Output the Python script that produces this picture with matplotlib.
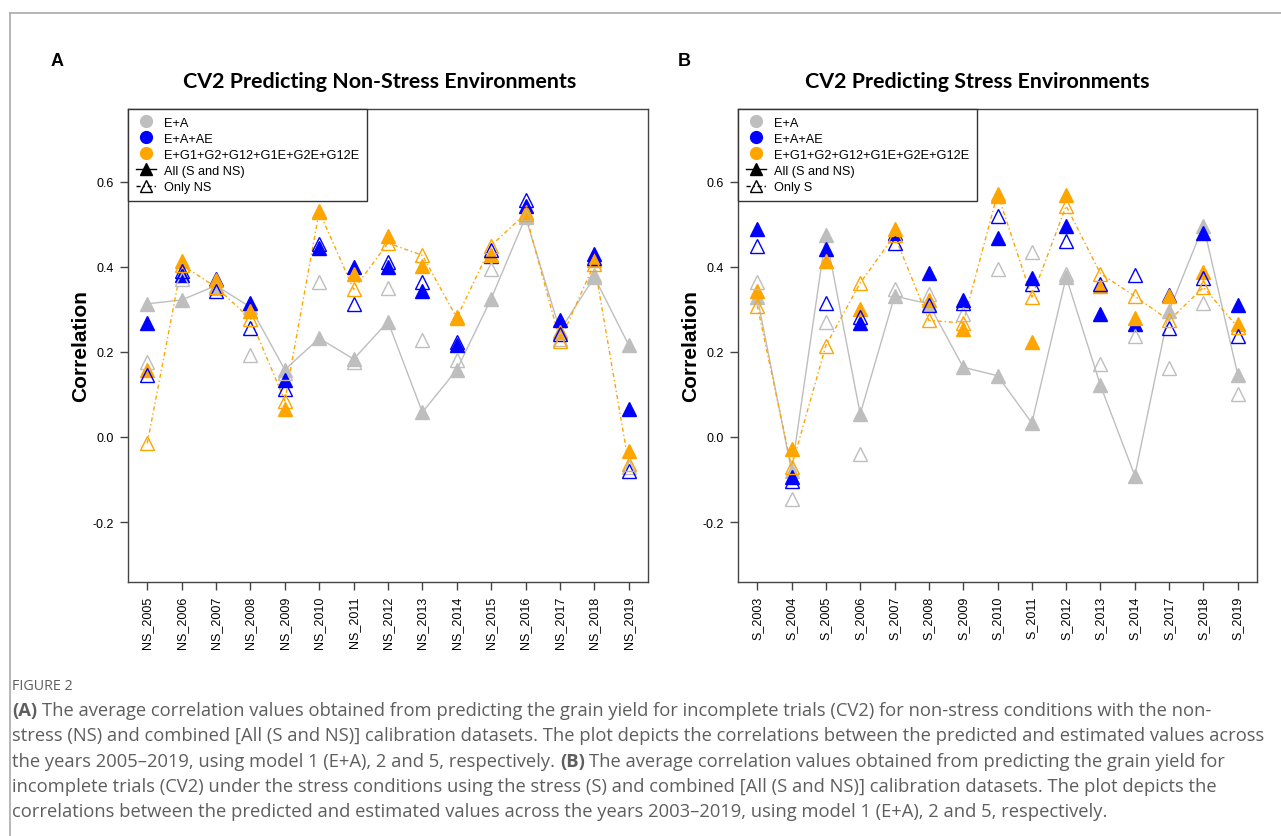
import matplotlib

matplotlib.use("Agg")
import matplotlib.pyplot as plt
from matplotlib.lines import Line2D

W, H = 1281, 837

# ---- data ---------------------------------------------------------------
ns_labels = ["NS_2005", "NS_2006", "NS_2007", "NS_2008", "NS_2009", "NS_2010",
             "NS_2011", "NS_2012", "NS_2013", "NS_2014", "NS_2015", "NS_2016",
             "NS_2017", "NS_2018", "NS_2019"]
ns_ea_all = [0.313, 0.322, 0.356, 0.305, 0.158, 0.232, 0.183, 0.271, 0.058,
             0.158, 0.325, 0.517, 0.250, 0.376, 0.216]
ns_ea_only = [0.176, 0.372, 0.350, 0.193, 0.150, 0.364, 0.176, 0.350, 0.227,
              0.180, 0.395, 0.520, 0.230, 0.380, -0.070]
ns_eaae_all = [0.268, 0.380, 0.372, 0.315, 0.134, 0.445, 0.399, 0.399, 0.342,
               0.216, 0.425, 0.544, 0.274, 0.430, 0.066]
ns_eaae_only = [0.146, 0.390, 0.344, 0.256, 0.113, 0.454, 0.313, 0.412, 0.365,
                0.223, 0.440, 0.556, 0.242, 0.420, -0.079]
ns_g_all = [0.158, 0.413, 0.368, 0.296, 0.066, 0.532, 0.383, 0.472, 0.403,
            0.282, 0.427, 0.529, 0.246, 0.415, -0.032]
ns_g_only = [-0.015, 0.405, 0.352, 0.278, 0.085, 0.530, 0.347, 0.456, 0.427,
             0.280, 0.450, 0.525, 0.226, 0.407, -0.064]

s_labels = ["S_2003", "S_2004", "S_2005", "S_2006", "S_2007", "S_2008",
            "S_2009", "S_2010", "S_2011", "S_2012", "S_2013", "S_2014",
            "S_2017", "S_2018", "S_2019"]
s_ea_all = [0.329, -0.080, 0.474, 0.054, 0.331, 0.313, 0.164, 0.144, 0.033,
            0.376, 0.121, -0.091, 0.297, 0.497, 0.146]
s_ea_only = [0.364, -0.146, 0.271, -0.040, 0.347, 0.337, 0.290, 0.394, 0.435,
             0.384, 0.172, 0.237, 0.162, 0.315, 0.101]
s_eaae_all = [0.489, -0.094, 0.442, 0.268, 0.480, 0.386, 0.321, 0.468, 0.373,
              0.497, 0.290, 0.266, 0.334, 0.480, 0.311]
s_eaae_only = [0.450, -0.103, 0.315, 0.282, 0.457, 0.311, 0.315, 0.519, 0.360,
               0.460, 0.360, 0.380, 0.256, 0.373, 0.237]
s_g_all = [0.342, -0.028, 0.413, 0.301, 0.488, 0.321, 0.254, 0.566, 0.224,
           0.568, 0.355, 0.279, 0.331, 0.388, 0.266]
s_g_only = [0.309, -0.071, 0.215, 0.362, 0.474, 0.274, 0.268, 0.572, 0.329,
            0.543, 0.384, 0.331, 0.274, 0.352, 0.258]

model_labels = ["E+A", "E+A+AE", "E+G1+G2+G12+G1E+G2E+G12E"]
y_ticks = [-0.2, 0.0, 0.2, 0.4, 0.6]

GRAY, BLUE, ORANGE = "#BEBEBE", "#0000FF", "#FFA500"
DOTDASH = (0, (3, 2, 1, 2))
SANS = "Liberation Sans"
CAPTION_FONT = "Open Sans"
CAPTION_COLOR = "#5e5e5e"


def px_axes(left, top, right, bottom):
    return [left / W, 1 - bottom / H, (right - left) / W, (bottom - top) / H]


def draw_panel(ax, labels, series, only_label):
    x = list(range(len(labels)))
    (ea_all, ea_only), (eaae_all, eaae_only), (g_all, g_only) = series
    ax.plot(x, ea_all, color=GRAY, lw=1, zorder=1)
    ax.plot(x, g_only, color=ORANGE, lw=1, linestyle=DOTDASH, zorder=1)
    for (all_vals, only_vals), col in zip(series, [GRAY, BLUE, ORANGE]):
        ax.plot(x, all_vals, linestyle="none", marker="^", ms=9.5,
                color=col, mec=col, zorder=2)
        ax.plot(x, only_vals, linestyle="none", marker="^", ms=9.5,
                mfc="none", mec=col, mew=1, zorder=3)

    ax.set_xlim(-0.56, len(labels) - 1 + 0.56)
    ax.set_ylim(-0.341, 0.771)
    ax.set_xticks(x)
    ax.set_xticklabels(labels, rotation=90, fontsize=9, family=SANS)
    ax.set_yticks(y_ticks)
    ax.set_yticklabels([f"{t:.1f}" for t in y_ticks], fontsize=9, family=SANS)
    ax.tick_params(direction="out", length=6, width=1, color="#444444", pad=4)
    for sp in ax.spines.values():
        sp.set_color("#444444")
        sp.set_linewidth(1)
    ax.set_ylabel("Correlation", fontsize=15, fontweight="bold", family=SANS,
                  labelpad=2)

    handles = [Line2D([], [], linestyle="none", marker="o", ms=8.5, color=c)
               for c in (GRAY, BLUE, ORANGE)]
    handles.append(Line2D([], [], color="black", lw=1, marker="^", ms=9))
    handles.append(Line2D([], [], color="black", lw=1, linestyle=DOTDASH,
                          marker="^", ms=9, mfc="none"))
    leg = ax.legend(handles, model_labels + ["All (S and NS)", only_label],
                    loc="upper left", borderaxespad=0, fancybox=False,
                    framealpha=1, edgecolor="#333333", prop={"family": SANS, "size": 9.2},
                    handlelength=1.6, handletextpad=0.6, labelspacing=0.32,
                    borderpad=0.6, numpoints=1)
    leg.get_frame().set_linewidth(1)


fig = plt.figure(figsize=(W / 100, H / 100), dpi=100)

# outer frame (left and top edges only are visible)
fig.add_artist(Line2D([10 / W, 10 / W], [0, 1 - 14 / H], color="#aaaaaa", lw=1.2))
fig.add_artist(Line2D([10 / W, 1], [1 - 14 / H, 1 - 14 / H], color="#aaaaaa", lw=1.2))

ax_a = fig.add_axes(px_axes(128, 110, 648, 583))
draw_panel(ax_a, ns_labels,
           [(ns_ea_all, ns_ea_only), (ns_eaae_all, ns_eaae_only), (ns_g_all, ns_g_only)],
           "Only NS")
ax_b = fig.add_axes(px_axes(738, 110, 1257, 583))
draw_panel(ax_b, s_labels,
           [(s_ea_all, s_ea_only), (s_eaae_all, s_eaae_only), (s_g_all, s_g_only)],
           "Only S")

fig.text(57 / W, 1 - 62 / H, "A", fontsize=13, fontweight="bold", family=SANS,
         ha="center", va="center")
fig.text(684 / W, 1 - 61 / H, "B", fontsize=13, fontweight="bold", family=SANS,
         ha="center", va="center")
fig.text(380 / W, 1 - 82 / H, "CV2 Predicting Non-Stress Environments", fontsize=15.4,
         fontweight="bold", family="Lato", ha="center", va="center")
fig.text(977 / W, 1 - 82 / H, "CV2 Predicting Stress Environments", fontsize=15.4,
         fontweight="bold", family="Lato", ha="center", va="center")

# ---- caption -----------------------------------------------------------
fig.text(12 / W, 1 - 686 / H, "FIGURE 2", fontsize=10.3, family=CAPTION_FONT,
         color=CAPTION_COLOR, va="center")

cap_size = 13.2
renderer = fig.canvas.get_renderer()
space = 0.26 * cap_size * 100 / 72


def caption_line(y_px, runs):
    # runs of (text, weight) laid out left to right on one line
    x = 12
    for text, weight in runs:
        t = fig.text(x / W, 1 - y_px / H, text, fontsize=cap_size, family=CAPTION_FONT,
                     fontweight=weight, color=CAPTION_COLOR, va="center")
        x += t.get_window_extent(renderer).width + space


caption_line(711, [("(A)", "bold"),
                   ("The average correlation values obtained from predicting the grain yield "
                    "for incomplete trials (CV2) for non-stress conditions with the non-", "normal")])
caption_line(736, [("stress (NS) and combined [All (S and NS)] calibration datasets. The plot "
                    "depicts the correlations between the predicted and estimated values across",
                    "normal")])
caption_line(762, [("the years 2005\u20132019, using model 1 (E+A), 2 and 5, respectively.", "normal"),
                   ("(B)", "bold"),
                   ("The average correlation values obtained from predicting the grain yield for",
                    "normal")])
caption_line(787, [("incomplete trials (CV2) under the stress conditions using the stress (S) and "
                    "combined [All (S and NS)] calibration datasets. The plot depicts the",
                    "normal")])
caption_line(812, [("correlations between the predicted and estimated values across the years "
                    "2003\u20132019, using model 1 (E+A), 2 and 5, respectively.", "normal")])

fig.savefig("out.png", dpi=100)
